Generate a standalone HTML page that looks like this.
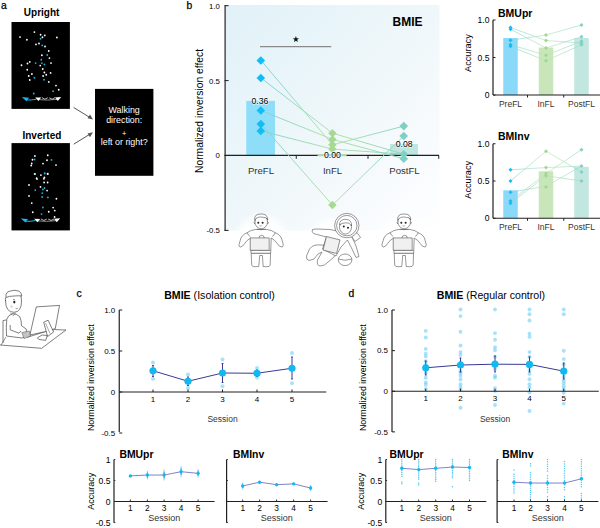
<!DOCTYPE html>
<html><head><meta charset="utf-8"><style>
html,body{margin:0;padding:0;background:#fff;width:600px;height:528px;overflow:hidden}
svg{display:block;font-family:"Liberation Sans", sans-serif}
</style></head><body>
<svg width="600" height="528" viewBox="0 0 600 528">
<text x="0.9" y="8.8" font-size="10.3" text-anchor="start" font-weight="normal" fill="#000" stroke="#000" stroke-width="0.25">a</text>
<text x="41.6" y="15.6" font-size="10" text-anchor="middle" font-weight="bold" fill="#000" >Upright</text>
<rect x="11.5" y="22" width="58.4" height="86.9" fill="#000" />
<text x="41.9" y="138.5" font-size="10" text-anchor="middle" font-weight="bold" fill="#000" >Inverted</text>
<rect x="11.5" y="143.1" width="58.4" height="87.3" fill="#000" />
<circle cx="34.4" cy="32.1" r="0.9" fill="#fff" />
<circle cx="20" cy="37.1" r="0.9" fill="#fff" />
<circle cx="26.9" cy="39.75" r="0.9" fill="#fff" />
<circle cx="40.6" cy="34.75" r="0.9" fill="#fff" />
<circle cx="44.75" cy="35.4" r="0.9" fill="#fff" />
<circle cx="42.5" cy="37.25" r="0.9" fill="#fff" />
<circle cx="40.6" cy="38.75" r="0.9" fill="#19b5e8" />
<circle cx="56.9" cy="37.5" r="0.9" fill="#fff" />
<circle cx="36" cy="44.4" r="0.9" fill="#fff" />
<circle cx="39" cy="43.5" r="0.9" fill="#fff" />
<circle cx="42.25" cy="45.4" r="0.9" fill="#19b5e8" />
<circle cx="45" cy="46.5" r="0.9" fill="#fff" />
<circle cx="48.75" cy="51" r="0.9" fill="#fff" />
<circle cx="41.9" cy="55.25" r="0.9" fill="#fff" />
<circle cx="47.25" cy="55" r="0.9" fill="#19b5e8" />
<circle cx="49.4" cy="58.1" r="0.9" fill="#fff" />
<circle cx="41.25" cy="59.75" r="0.9" fill="#19b5e8" />
<circle cx="29.75" cy="61.9" r="0.9" fill="#fff" />
<circle cx="27.5" cy="63.5" r="0.9" fill="#fff" />
<circle cx="35.6" cy="63.1" r="0.9" fill="#19b5e8" />
<circle cx="41.9" cy="63.1" r="0.9" fill="#19b5e8" />
<circle cx="44.4" cy="64.4" r="0.9" fill="#19b5e8" />
<circle cx="51" cy="63.1" r="0.9" fill="#fff" />
<circle cx="21.5" cy="65.25" r="0.9" fill="#fff" />
<circle cx="40.25" cy="65.6" r="0.9" fill="#fff" />
<circle cx="42.75" cy="69" r="0.9" fill="#fff" />
<circle cx="27.25" cy="69.75" r="0.9" fill="#fff" />
<circle cx="50.6" cy="72.9" r="0.9" fill="#fff" />
<circle cx="44.4" cy="72.5" r="0.9" fill="#fff" />
<circle cx="46.25" cy="74.75" r="0.9" fill="#fff" />
<circle cx="31.9" cy="74" r="0.9" fill="#fff" />
<circle cx="28.75" cy="76" r="0.9" fill="#fff" />
<circle cx="43.1" cy="76" r="0.9" fill="#fff" />
<circle cx="34.4" cy="77.75" r="0.9" fill="#19b5e8" />
<circle cx="29.75" cy="80" r="0.9" fill="#fff" />
<circle cx="44" cy="79.75" r="0.9" fill="#19b5e8" />
<circle cx="48.75" cy="81.9" r="0.9" fill="#fff" />
<circle cx="56" cy="85.6" r="0.9" fill="#fff" />
<circle cx="58.75" cy="89.75" r="0.9" fill="#fff" />
<circle cx="53.1" cy="91.25" r="0.9" fill="#19b5e8" />
<circle cx="33.75" cy="93.5" r="0.9" fill="#19b5e8" />
<g transform="translate(0,0)"><path d="M38 99.6 Q47 100.6 57 99.4" stroke="#8a8a8a" stroke-width="1" fill="none"/><path d="M41.8 97.6 Q44.8 100.6 47.8 97.8 M49.2 97.8 Q52.2 100.6 55.2 97.6" stroke="#e8e8e8" stroke-width="0.8" fill="none"/><path d="M26 99.9 Q31 100.5 36.5 99.2" stroke="#19b5e8" stroke-width="1" fill="none"/><path d="M21.8 97.1 L29 97.7 L26.4 101.2 Z" fill="#19b5e8"/><path d="M35.2 97.4 L41.2 97.6 L38.4 101 Z" fill="#fff"/><path d="M55 97.4 L61.2 96.9 L57.8 100.9 Z" fill="#fff"/></g>
<circle cx="34.9" cy="156" r="0.9" fill="#fff" />
<circle cx="47.75" cy="155.25" r="0.9" fill="#fff" />
<circle cx="32.5" cy="159.75" r="0.9" fill="#fff" />
<circle cx="34.5" cy="159.5" r="0.9" fill="#19b5e8" />
<circle cx="47" cy="160.25" r="0.9" fill="#fff" />
<circle cx="51.5" cy="159.9" r="0.9" fill="#19b5e8" />
<circle cx="31.75" cy="163.4" r="0.9" fill="#fff" />
<circle cx="43" cy="163.6" r="0.9" fill="#fff" />
<circle cx="31.25" cy="165.5" r="0.9" fill="#fff" />
<circle cx="56" cy="165.1" r="0.9" fill="#fff" />
<circle cx="34.5" cy="173.9" r="0.9" fill="#19b5e8" />
<circle cx="40.9" cy="175.1" r="0.9" fill="#fff" />
<circle cx="44.75" cy="173.6" r="0.9" fill="#19b5e8" />
<circle cx="47.6" cy="173.9" r="0.9" fill="#fff" />
<circle cx="36.6" cy="178.2" r="0.9" fill="#fff" />
<circle cx="44.4" cy="177.4" r="0.9" fill="#fff" />
<circle cx="35" cy="174" r="0.9" fill="#fff" />
<circle cx="44.6" cy="173.1" r="0.9" fill="#19b5e8" />
<circle cx="47.75" cy="173.75" r="0.9" fill="#fff" />
<circle cx="37" cy="179.1" r="0.9" fill="#fff" />
<circle cx="43.9" cy="178.75" r="0.9" fill="#fff" />
<circle cx="44.1" cy="182.5" r="0.9" fill="#fff" />
<circle cx="47.6" cy="182.5" r="0.9" fill="#fff" />
<circle cx="29" cy="185" r="0.9" fill="#fff" />
<circle cx="40.5" cy="186.9" r="0.9" fill="#fff" />
<circle cx="42.9" cy="189.5" r="0.9" fill="#19b5e8" />
<circle cx="44.5" cy="188" r="0.9" fill="#19b5e8" />
<circle cx="35.25" cy="190.1" r="0.9" fill="#19b5e8" />
<circle cx="47.1" cy="190.6" r="0.9" fill="#fff" />
<circle cx="42.3" cy="193.1" r="0.9" fill="#19b5e8" />
<circle cx="29" cy="195.9" r="0.9" fill="#fff" />
<circle cx="42.1" cy="197" r="0.9" fill="#19b5e8" />
<circle cx="47.9" cy="197.4" r="0.9" fill="#19b5e8" />
<circle cx="56.4" cy="198.75" r="0.9" fill="#fff" />
<circle cx="31.75" cy="203.1" r="0.9" fill="#fff" />
<circle cx="42.9" cy="207.5" r="0.9" fill="#19b5e8" />
<circle cx="53.1" cy="207.6" r="0.9" fill="#fff" />
<circle cx="48.75" cy="211.75" r="0.9" fill="#fff" />
<circle cx="54.75" cy="210.6" r="0.9" fill="#fff" />
<circle cx="32.75" cy="212.25" r="0.9" fill="#fff" />
<circle cx="41.5" cy="214.1" r="0.9" fill="#19b5e8" />
<circle cx="54.6" cy="217" r="0.9" fill="#fff" />
<g transform="translate(-1,121.3)"><path d="M38 99.6 Q47 100.6 57 99.4" stroke="#8a8a8a" stroke-width="1" fill="none"/><path d="M41.8 97.6 Q44.8 100.6 47.8 97.8 M49.2 97.8 Q52.2 100.6 55.2 97.6" stroke="#e8e8e8" stroke-width="0.8" fill="none"/><path d="M26 99.9 Q31 100.5 36.5 99.2" stroke="#19b5e8" stroke-width="1" fill="none"/><path d="M21.8 97.1 L29 97.7 L26.4 101.2 Z" fill="#19b5e8"/><path d="M35.2 97.4 L41.2 97.6 L38.4 101 Z" fill="#fff"/><path d="M55 97.4 L61.2 96.9 L57.8 100.9 Z" fill="#fff"/></g>
<rect x="95" y="88.9" width="58.4" height="86.9" fill="#000" />
<text x="124.2" y="112.5" font-size="8.9" text-anchor="middle" font-weight="normal" fill="#fff" >Walking</text>
<text x="124.2" y="122.8" font-size="8.9" text-anchor="middle" font-weight="normal" fill="#fff" >direction:</text>
<text x="124.2" y="135.8" font-size="7.5" text-anchor="middle" font-weight="normal" fill="#fff" >+</text>
<text x="124.2" y="144.6" font-size="8.9" text-anchor="middle" font-weight="normal" fill="#fff" >left or right?</text>
<line x1="73.7" y1="107.5" x2="91" y2="118.2" stroke="#555" stroke-width="1" />
<path d="M93 119.5 L87.5 118.3 L90 114.5 Z" fill="#555"/>
<line x1="73.7" y1="144.2" x2="91" y2="133.5" stroke="#555" stroke-width="1" />
<path d="M93 132.3 L87.5 133.5 L90 137.3 Z" fill="#555"/>
<text x="186.5" y="8.8" font-size="10.3" text-anchor="start" font-weight="normal" fill="#000" stroke="#000" stroke-width="0.25">b</text>
<defs>
<linearGradient id="bg" x1="0" y1="0" x2="1" y2="1">
<stop offset="0" stop-color="#e1f1f8"/><stop offset="0.21" stop-color="#e6f4f9"/><stop offset="0.5" stop-color="#eff7fa"/><stop offset="0.71" stop-color="#f6fafc"/><stop offset="0.92" stop-color="#fcfdfe"/><stop offset="1" stop-color="#ffffff"/>
</linearGradient>
<radialGradient id="glow"><stop offset="0" stop-color="#fff" stop-opacity="1"/><stop offset="0.7" stop-color="#fff" stop-opacity="0.9"/><stop offset="1" stop-color="#fff" stop-opacity="0"/></radialGradient>
</defs>
<rect x="226" y="5" width="213.5" height="225.5" fill="url(#bg)" />
<line x1="225.1" y1="5.2" x2="225.1" y2="230.9" stroke="#231f20" stroke-width="1.2" />
<line x1="224.6" y1="5.699999999999989" x2="228.6" y2="5.699999999999989" stroke="#231f20" stroke-width="1" />
<text x="219.9" y="8.599999999999989" font-size="7.8" text-anchor="end" font-weight="normal" fill="#000" >1.0</text>
<line x1="224.6" y1="80.6" x2="228.6" y2="80.6" stroke="#231f20" stroke-width="1" />
<text x="219.9" y="83.5" font-size="7.8" text-anchor="end" font-weight="normal" fill="#000" >0.5</text>
<line x1="224.6" y1="155.5" x2="228.6" y2="155.5" stroke="#231f20" stroke-width="1" />
<text x="219.9" y="158.4" font-size="7.8" text-anchor="end" font-weight="normal" fill="#000" >0</text>
<line x1="224.6" y1="230.4" x2="228.6" y2="230.4" stroke="#231f20" stroke-width="1" />
<text x="219.9" y="233.3" font-size="7.8" text-anchor="end" font-weight="normal" fill="#000" >-0.5</text>
<text x="0" y="0" font-size="10.3" text-anchor="middle" font-weight="normal" fill="#000" transform="translate(202.6,111) rotate(-90)">Normalized inversion effect</text>
<rect x="246.25" y="100.9" width="28.75" height="55.1" fill="#8edefa" />
<rect x="390" y="144" width="28" height="12" fill="#bde6de" />
<line x1="224.6" y1="155.4" x2="439" y2="155.4" stroke="#231f20" stroke-width="1.3" />
<line x1="296.25" y1="155.4" x2="296.25" y2="158.8" stroke="#231f20" stroke-width="1" />
<line x1="368" y1="155.4" x2="368" y2="158.8" stroke="#231f20" stroke-width="1" />
<line x1="438.75" y1="155.4" x2="438.75" y2="158.8" stroke="#231f20" stroke-width="1" />
<rect x="317.6" y="154.3" width="29" height="2" fill="#b3dca3" />
<defs>
<linearGradient id="lg1" gradientUnits="userSpaceOnUse" x1="261" y1="0" x2="332.5" y2="0"><stop offset="0" stop-color="#84d2d6"/><stop offset="1" stop-color="#b2e2a6"/></linearGradient>
<linearGradient id="lg2" gradientUnits="userSpaceOnUse" x1="332.5" y1="0" x2="404" y2="0"><stop offset="0" stop-color="#b2e2a6"/><stop offset="1" stop-color="#8dd7c6"/></linearGradient>
</defs>
<path d="M261 60.5L332.5 144.8" stroke="url(#lg1)" stroke-width="1" fill="none"/>
<path d="M261 78L332.5 133.2" stroke="url(#lg1)" stroke-width="1" fill="none"/>
<path d="M261 110.5L332.5 139.4" stroke="url(#lg1)" stroke-width="1" fill="none"/>
<path d="M261 124.1L332.5 205" stroke="url(#lg1)" stroke-width="1" fill="none"/>
<path d="M261 130.9L332.5 149.1" stroke="url(#lg1)" stroke-width="1" fill="none"/>
<path d="M332.5 144.8L403.75 126.1" stroke="url(#lg2)" stroke-width="1" fill="none"/>
<path d="M332.5 133.2L403.75 154.2" stroke="url(#lg2)" stroke-width="1" fill="none"/>
<path d="M332.5 139.4L403.75 158.75" stroke="url(#lg2)" stroke-width="1" fill="none"/>
<path d="M332.5 205L403.75 136" stroke="url(#lg2)" stroke-width="1" fill="none"/>
<path d="M332.5 149.1L403.75 154.2" stroke="url(#lg2)" stroke-width="1" fill="none"/>
<path d="M256.5 60.5L260.8 56.2L265.1 60.5L260.8 64.8Z" fill="#12bdf6"/>
<path d="M256.5 78L260.8 73.7L265.1 78L260.8 82.3Z" fill="#12bdf6"/>
<path d="M256.5 110.5L260.8 106.2L265.1 110.5L260.8 114.8Z" fill="#12bdf6"/>
<path d="M256.5 124.1L260.8 119.8L265.1 124.1L260.8 128.4Z" fill="#12bdf6"/>
<path d="M256.5 130.9L260.8 126.60000000000001L265.1 130.9L260.8 135.20000000000002Z" fill="#12bdf6"/>
<path d="M328.2 133.2L332.4 129.0L336.59999999999997 133.2L332.4 137.39999999999998Z" fill="#a6d993"/>
<path d="M328.2 139.4L332.4 135.20000000000002L336.59999999999997 139.4L332.4 143.6Z" fill="#a6d993"/>
<path d="M328.2 144.8L332.4 140.60000000000002L336.59999999999997 144.8L332.4 149.0Z" fill="#a6d993"/>
<path d="M328.2 149.1L332.4 144.9L336.59999999999997 149.1L332.4 153.29999999999998Z" fill="#a6d993"/>
<path d="M328.2 205L332.4 200.8L336.59999999999997 205L332.4 209.2Z" fill="#a6d993"/>
<path d="M399.45 126.1L403.75 121.8L408.05 126.1L403.75 130.4Z" fill="#7ed0c2"/>
<path d="M399.45 136L403.75 131.7L408.05 136L403.75 140.3Z" fill="#7ed0c2"/>
<path d="M399.45 154.2L403.75 149.89999999999998L408.05 154.2L403.75 158.5Z" fill="#7ed0c2"/>
<path d="M399.45 158.75L403.75 154.45L408.05 158.75L403.75 163.05Z" fill="#7ed0c2"/>
<text x="260" y="104" font-size="8.7" text-anchor="middle" font-weight="normal" fill="#000" stroke="#fff" stroke-width="1.3" paint-order="stroke" stroke-opacity="0.8">0.36</text>
<text x="332.5" y="157.6" font-size="8.7" text-anchor="middle" font-weight="normal" fill="#000" stroke="#fff" stroke-width="1.3" paint-order="stroke" stroke-opacity="0.8">0.00</text>
<text x="404.2" y="147.4" font-size="8.7" text-anchor="middle" font-weight="normal" fill="#000" stroke="#fff" stroke-width="1.3" paint-order="stroke" stroke-opacity="0.8">0.08</text>
<text x="261" y="174" font-size="9.6" text-anchor="middle" font-weight="normal" fill="#333" >PreFL</text>
<text x="332.5" y="174" font-size="9.6" text-anchor="middle" font-weight="normal" fill="#333" >InFL</text>
<text x="404.5" y="174" font-size="9.6" text-anchor="middle" font-weight="normal" fill="#333" >PostFL</text>
<line x1="260" y1="46.6" x2="331.25" y2="46.6" stroke="#8a8a8a" stroke-width="1.4" />
<polygon points="295.90,36.10 296.69,38.31 299.04,38.38 297.18,39.82 297.84,42.07 295.90,40.75 293.96,42.07 294.62,39.82 292.76,38.38 295.11,38.31" fill="#111"/>
<text x="407.5" y="26" font-size="12" text-anchor="middle" font-weight="bold" fill="#000" >BMIE</text>
<g stroke="#333" stroke-width="0.5" fill="#fff" stroke-linejoin="round" transform="translate(261.2,214.5)"><ellipse cx="0" cy="27" rx="30" ry="30" fill="url(#glow)" stroke="none"/><path d="M-10 38.7 L-9.5 50.5 Q-9 52.5 -6 52.2 L-2.5 52 Q-1.8 46 -1.5 41 L1.2 41 Q1.5 46 2 52 L5.5 52.2 Q8.5 52.5 9 50.5 L9.3 38.7 Z"/><path d="M-6 15 Q-11.5 16 -14 18.2 Q-20 20.5 -21 26 L-22.2 30 Q-22.5 32 -21 32.6 L-18.5 31.5 L-16.5 29 Q-15 26 -10.5 23.5 L-10.2 38.7 L9.5 38.7 L10 23.5 Q14.5 26 16 29 L18 31.5 L20.8 32.6 Q22.3 32 22 30 L21 26 Q20 20.5 14 18.2 Q11.5 16 6 15 Z"/><path d="M-14 18.2 Q-13 21 -11 22" fill="none"/><path d="M14 18.2 Q13 21 11 22" fill="none"/><path d="M-10.2 36 L9.5 36" fill="none" stroke-width="0.4"/><rect x="-11" y="23.4" width="19" height="12.4" fill="#f0f0f0"/><path d="M-2.2 23.4 Q-2 20.8 0.5 20.8 Q3 20.8 3 23.4" fill="none"/><ellipse cx="0" cy="7.3" rx="6.3" ry="6.9"/><path d="M-6.4 6 Q-7.5 -0.8 0 -0.5 Q6.5 -0.8 6.5 5.5 Q5.5 2.5 2 2.8 Q-1 2 -3.5 3 Q-5.5 3.5 -6.4 6 Z" fill="#fff"/><path d="M-6.3 7 Q-7.8 7.5 -6.5 9.5" fill="none"/><path d="M6.3 7 Q7.8 7.5 6.5 9.5" fill="none"/><ellipse cx="-2.9" cy="8.2" rx="1" ry="1" fill="#222" stroke="none"/><ellipse cx="1.4" cy="8.2" rx="1" ry="1" fill="#222" stroke="none"/><path d="M-1.8 11.2 Q-0.6 12 0.8 11.2" fill="none" stroke-width="0.4"/><path d="M-4.5 14.5 Q0 16 4.5 14.5" fill="none" stroke-width="0.4"/></g>
<g stroke="#333" stroke-width="0.5" fill="#fff" stroke-linejoin="round" transform="translate(404.2,214.5)"><ellipse cx="0" cy="27" rx="30" ry="30" fill="url(#glow)" stroke="none"/><path d="M-10 38.7 L-9.5 50.5 Q-9 52.5 -6 52.2 L-2.5 52 Q-1.8 46 -1.5 41 L1.2 41 Q1.5 46 2 52 L5.5 52.2 Q8.5 52.5 9 50.5 L9.3 38.7 Z"/><path d="M-6 15 Q-11.5 16 -14 18.2 Q-20 20.5 -21 26 L-22.2 30 Q-22.5 32 -21 32.6 L-18.5 31.5 L-16.5 29 Q-15 26 -10.5 23.5 L-10.2 38.7 L9.5 38.7 L10 23.5 Q14.5 26 16 29 L18 31.5 L20.8 32.6 Q22.3 32 22 30 L21 26 Q20 20.5 14 18.2 Q11.5 16 6 15 Z"/><path d="M-14 18.2 Q-13 21 -11 22" fill="none"/><path d="M14 18.2 Q13 21 11 22" fill="none"/><path d="M-10.2 36 L9.5 36" fill="none" stroke-width="0.4"/><rect x="-11" y="23.4" width="19" height="12.4" fill="#f0f0f0"/><path d="M-2.2 23.4 Q-2 20.8 0.5 20.8 Q3 20.8 3 23.4" fill="none"/><ellipse cx="0" cy="7.3" rx="6.3" ry="6.9"/><path d="M-6.4 6 Q-7.5 -0.8 0 -0.5 Q6.5 -0.8 6.5 5.5 Q5.5 2.5 2 2.8 Q-1 2 -3.5 3 Q-5.5 3.5 -6.4 6 Z" fill="#fff"/><path d="M-6.3 7 Q-7.8 7.5 -6.5 9.5" fill="none"/><path d="M6.3 7 Q7.8 7.5 6.5 9.5" fill="none"/><ellipse cx="-2.9" cy="8.2" rx="1" ry="1" fill="#222" stroke="none"/><ellipse cx="1.4" cy="8.2" rx="1" ry="1" fill="#222" stroke="none"/><path d="M-1.8 11.2 Q-0.6 12 0.8 11.2" fill="none" stroke-width="0.4"/><path d="M-4.5 14.5 Q0 16 4.5 14.5" fill="none" stroke-width="0.4"/></g>
<g stroke="#333" stroke-width="0.5" fill="#fff" stroke-linejoin="round">
<ellipse cx="335" cy="243" rx="34" ry="28" fill="url(#glow)" stroke="none"/>
<path d="M321 245 Q313 244 309.5 249 L306.5 256 Q306 260 309 260.5 L314 259 L318 254 L322 252 L317.5 260 Q316.5 265.5 320 266 L324.5 265 L334 257 L337 252 L336 246 Z"/>
<path d="M312.5 229.5 Q311.5 232 313.5 233.5 L317 234.5 L326.5 237 L322.5 249 L336 256 L341 247 L347.5 240 L352.5 250 L356 257.5 L359 256.5 L356 246 L352 237 L347 233.5 L337 231 L330 229.5 L316 229 Z"/>
<path d="M351 235.5 L357 232.5 L360.5 237.5 L355 241.5 Z"/>
<rect x="324.5" y="238" width="14" height="14" fill="#f0f0f0" transform="rotate(14 331.5 245)"/>
<circle cx="346.8" cy="225.6" r="12.2"/>
<circle cx="346.8" cy="225.6" r="10.2"/>
<ellipse cx="345.5" cy="227.2" rx="6" ry="6.8"/>
<path d="M339.5 225 Q339.5 219 346 219.3 Q352 219.8 351.6 226 Q349.5 222 345.5 222.8 Q341.5 223 339.5 225 Z" fill="#fff"/>
<ellipse cx="343.8" cy="226.6" rx="1" ry="1" fill="#222" stroke="none"/><ellipse cx="348" cy="227.8" rx="1" ry="1" fill="#222" stroke="none"/>
<ellipse cx="345.1" cy="259.8" rx="6.8" ry="5.8"/>
<path d="M338.5 259 Q345 261.5 351.8 259" fill="none"/>
</g>
<defs>
<linearGradient id="lgs1" gradientUnits="userSpaceOnUse" x1="510.5" y1="0" x2="546" y2="0"><stop offset="0" stop-color="#8dd4dc"/><stop offset="1" stop-color="#bde6b4"/></linearGradient>
<linearGradient id="lgs2" gradientUnits="userSpaceOnUse" x1="546" y1="0" x2="581.5" y2="0"><stop offset="0" stop-color="#bde6b4"/><stop offset="1" stop-color="#9edbcc"/></linearGradient>
</defs>
<text x="498" y="17" font-size="10.5" text-anchor="start" font-weight="bold" fill="#000" >BMUpr</text>
<rect x="503.25" y="38.0" width="14.5" height="57.0" fill="#8ad9f8" />
<rect x="538.75" y="47.525" width="14.5" height="47.475" fill="#c8e6ba" />
<rect x="574.25" y="38.0" width="14.5" height="57.0" fill="#c2e7e0" />
<path d="M510.5 27.50L546 40.48" stroke="url(#lgs1)" stroke-width="0.7" fill="none"/>
<path d="M546 40.48L581.5 43.03" stroke="url(#lgs2)" stroke-width="0.7" fill="none"/>
<path d="M510.5 29.22L546 47.98" stroke="url(#lgs1)" stroke-width="0.7" fill="none"/>
<path d="M546 47.98L581.5 36.73" stroke="url(#lgs2)" stroke-width="0.7" fill="none"/>
<path d="M510.5 40.25L546 35.00" stroke="url(#lgs1)" stroke-width="0.7" fill="none"/>
<path d="M546 35.00L581.5 25.02" stroke="url(#lgs2)" stroke-width="0.7" fill="none"/>
<path d="M510.5 44.75L546 55.25" stroke="url(#lgs1)" stroke-width="0.7" fill="none"/>
<path d="M546 55.25L581.5 41.30" stroke="url(#lgs2)" stroke-width="0.7" fill="none"/>
<path d="M510.5 46.25L546 60.80" stroke="url(#lgs1)" stroke-width="0.7" fill="none"/>
<path d="M546 60.80L581.5 44.75" stroke="url(#lgs2)" stroke-width="0.7" fill="none"/>
<path d="M508.5 27.5L510.5 25.5L512.5 27.5L510.5 29.5Z" fill="#14bcf4"/>
<path d="M508.5 29.224999999999994L510.5 27.224999999999994L512.5 29.224999999999994L510.5 31.224999999999994Z" fill="#14bcf4"/>
<path d="M508.5 40.25L510.5 38.25L512.5 40.25L510.5 42.25Z" fill="#14bcf4"/>
<path d="M508.5 44.75L510.5 42.75L512.5 44.75L510.5 46.75Z" fill="#14bcf4"/>
<path d="M508.5 46.25L510.5 44.25L512.5 46.25L510.5 48.25Z" fill="#14bcf4"/>
<path d="M544.0 35.0L546 33.0L548.0 35.0L546 37.0Z" fill="#a2d791"/>
<path d="M544.0 40.475L546 38.475L548.0 40.475L546 42.475Z" fill="#a2d791"/>
<path d="M544.0 47.975L546 45.975L548.0 47.975L546 49.975Z" fill="#a2d791"/>
<path d="M544.0 55.25L546 53.25L548.0 55.25L546 57.25Z" fill="#a2d791"/>
<path d="M544.0 60.8L546 58.8L548.0 60.8L546 62.8Z" fill="#a2d791"/>
<path d="M579.5 25.02499999999999L581.5 23.02499999999999L583.5 25.02499999999999L581.5 27.02499999999999Z" fill="#80d0c3"/>
<path d="M579.5 36.725L581.5 34.725L583.5 36.725L581.5 38.725Z" fill="#80d0c3"/>
<path d="M579.5 41.300000000000004L581.5 39.300000000000004L583.5 41.300000000000004L581.5 43.300000000000004Z" fill="#80d0c3"/>
<path d="M579.5 43.025000000000006L581.5 41.025000000000006L583.5 43.025000000000006L581.5 45.025000000000006Z" fill="#80d0c3"/>
<path d="M579.5 44.75L581.5 42.75L583.5 44.75L581.5 46.75Z" fill="#80d0c3"/>
<line x1="493" y1="20" x2="493" y2="95" stroke="#231f20" stroke-width="1.2" />
<line x1="493" y1="95" x2="600" y2="95" stroke="#231f20" stroke-width="1.2" />
<line x1="493" y1="20" x2="495.5" y2="20" stroke="#231f20" stroke-width="1" />
<text x="489.5" y="23" font-size="8.6" text-anchor="end" font-weight="normal" fill="#000" >1.0</text>
<line x1="493" y1="57.5" x2="495.5" y2="57.5" stroke="#231f20" stroke-width="1" />
<text x="489.5" y="60.5" font-size="8.6" text-anchor="end" font-weight="normal" fill="#000" >0.5</text>
<line x1="493" y1="95" x2="495.5" y2="95" stroke="#231f20" stroke-width="1" />
<text x="489.5" y="98" font-size="8.6" text-anchor="end" font-weight="normal" fill="#000" >0</text>
<line x1="527.5" y1="95" x2="527.5" y2="97.5" stroke="#231f20" stroke-width="1" />
<line x1="563.75" y1="95" x2="563.75" y2="97.5" stroke="#231f20" stroke-width="1" />
<text x="510.5" y="107" font-size="8.5" text-anchor="middle" font-weight="normal" fill="#333" >PreFL</text>
<text x="546" y="107" font-size="8.5" text-anchor="middle" font-weight="normal" fill="#333" >InFL</text>
<text x="581.5" y="107" font-size="8.5" text-anchor="middle" font-weight="normal" fill="#333" >PostFL</text>
<text x="0" y="0" font-size="9.2" text-anchor="middle" font-weight="normal" fill="#000" transform="translate(471,53.1) rotate(-90)">Accuracy</text>
<text x="498" y="140" font-size="10.5" text-anchor="start" font-weight="bold" fill="#000" >BMInv</text>
<rect x="503.25" y="190.3125" width="14.5" height="27.9375" fill="#8ad9f8" />
<rect x="538.75" y="171.315" width="14.5" height="46.935" fill="#c8e6ba" />
<rect x="574.25" y="166.845" width="14.5" height="51.405" fill="#c2e7e0" />
<path d="M510.5 169.82L546 167.59" stroke="url(#lgs1)" stroke-width="0.7" fill="none"/>
<path d="M546 167.59L581.5 166.10" stroke="url(#lgs2)" stroke-width="0.7" fill="none"/>
<path d="M510.5 181.00L546 151.20" stroke="url(#lgs1)" stroke-width="0.7" fill="none"/>
<path d="M546 151.20L581.5 172.06" stroke="url(#lgs2)" stroke-width="0.7" fill="none"/>
<path d="M510.5 192.18L546 186.22" stroke="url(#lgs1)" stroke-width="0.7" fill="none"/>
<path d="M546 186.22L581.5 166.10" stroke="url(#lgs2)" stroke-width="0.7" fill="none"/>
<path d="M510.5 201.12L546 173.55" stroke="url(#lgs1)" stroke-width="0.7" fill="none"/>
<path d="M546 173.55L581.5 149.71" stroke="url(#lgs2)" stroke-width="0.7" fill="none"/>
<path d="M510.5 203.35L546 175.78" stroke="url(#lgs1)" stroke-width="0.7" fill="none"/>
<path d="M546 175.78L581.5 181.00" stroke="url(#lgs2)" stroke-width="0.7" fill="none"/>
<path d="M508.5 169.825L510.5 167.825L512.5 169.825L510.5 171.825Z" fill="#14bcf4"/>
<path d="M508.5 181.0L510.5 179.0L512.5 181.0L510.5 183.0Z" fill="#14bcf4"/>
<path d="M508.5 192.175L510.5 190.175L512.5 192.175L510.5 194.175Z" fill="#14bcf4"/>
<path d="M508.5 201.115L510.5 199.115L512.5 201.115L510.5 203.115Z" fill="#14bcf4"/>
<path d="M508.5 203.35L510.5 201.35L512.5 203.35L510.5 205.35Z" fill="#14bcf4"/>
<path d="M544.0 151.2L546 149.2L548.0 151.2L546 153.2Z" fill="#a2d791"/>
<path d="M544.0 167.59L546 165.59L548.0 167.59L546 169.59Z" fill="#a2d791"/>
<path d="M544.0 173.55L546 171.55L548.0 173.55L546 175.55Z" fill="#a2d791"/>
<path d="M544.0 175.785L546 173.785L548.0 175.785L546 177.785Z" fill="#a2d791"/>
<path d="M544.0 186.96L546 184.96L548.0 186.96L546 188.96Z" fill="#a2d791"/>
<path d="M579.5 149.70999999999998L581.5 147.70999999999998L583.5 149.70999999999998L581.5 151.70999999999998Z" fill="#80d0c3"/>
<path d="M579.5 166.1L581.5 164.1L583.5 166.1L581.5 168.1Z" fill="#80d0c3"/>
<path d="M579.5 172.06L581.5 170.06L583.5 172.06L581.5 174.06Z" fill="#80d0c3"/>
<path d="M579.5 181.0L581.5 179.0L583.5 181.0L581.5 183.0Z" fill="#80d0c3"/>
<line x1="493" y1="143.75" x2="493" y2="218.25" stroke="#231f20" stroke-width="1.2" />
<line x1="493" y1="218.25" x2="600" y2="218.25" stroke="#231f20" stroke-width="1.2" />
<line x1="493" y1="143.75" x2="495.5" y2="143.75" stroke="#231f20" stroke-width="1" />
<text x="489.5" y="146.75" font-size="8.6" text-anchor="end" font-weight="normal" fill="#000" >1.0</text>
<line x1="493" y1="181.0" x2="495.5" y2="181.0" stroke="#231f20" stroke-width="1" />
<text x="489.5" y="184.0" font-size="8.6" text-anchor="end" font-weight="normal" fill="#000" >0.5</text>
<line x1="493" y1="218.25" x2="495.5" y2="218.25" stroke="#231f20" stroke-width="1" />
<text x="489.5" y="221.25" font-size="8.6" text-anchor="end" font-weight="normal" fill="#000" >0</text>
<line x1="527.5" y1="218.25" x2="527.5" y2="220.75" stroke="#231f20" stroke-width="1" />
<line x1="563.75" y1="218.25" x2="563.75" y2="220.75" stroke="#231f20" stroke-width="1" />
<text x="510.5" y="230.25" font-size="8.5" text-anchor="middle" font-weight="normal" fill="#333" >PreFL</text>
<text x="546" y="230.25" font-size="8.5" text-anchor="middle" font-weight="normal" fill="#333" >InFL</text>
<text x="581.5" y="230.25" font-size="8.5" text-anchor="middle" font-weight="normal" fill="#333" >PostFL</text>
<text x="0" y="0" font-size="9.2" text-anchor="middle" font-weight="normal" fill="#000" transform="translate(471,179.8) rotate(-90)">Accuracy</text>
<g stroke="#2a2a2a" stroke-width="0.6" fill="none" stroke-linejoin="round">
<ellipse cx="34" cy="320" rx="40" ry="35" fill="url(#glow)" stroke="none"/>
<path d="M0 345 L41.7 348.3 L65.9 330 L54.5 329.6 L45.7 331.5 L27 337.4" fill="#fff"/>
<path d="M36.3 306.9 L59.5 305.4 L55.3 328.6 L45.7 331.5 L29.9 335 Z" fill="#fff"/>
<path d="M43.7 322.2 L48.1 320.2 L53.6 332 L47.6 336.5 Z" fill="#fff"/>
<path d="M45.5 323 L50 333.5" stroke-width="0.4"/>
<path d="M37.3 337.9 L42.2 335 L47.2 335.5 L45.7 340.4 L38.8 339.4 Z" fill="#fff"/>
<path d="M3 343 L3 320.6 L6.5 319.9" />
<path d="M1 345 L6 337" stroke-width="0.5"/>
<path d="M13 313.5 Q8 315 6.8 319 Q6 327 6.5 336 L22 338 L27 336 L26.5 332 L26.2 329 L21.5 325.7 Q21.5 320 19.8 316.8 Q17 314 13 313.5 Z" fill="#fff"/>
<path d="M10.2 325 L10.2 329.8 L19 333.2 L21 331" />
<path d="M21.8 332.5 L29.3 331 L30.5 336 L24 338.6 Z" fill="#c4c4c4" stroke-width="0.4"/>
<path d="M5.5 300 Q5.5 312.5 14 312.3 Q21.5 312 21.5 301 Q21.5 296 20 294" fill="#fff"/>
<path d="M6 297.5 Q5 291 12 290.8 Q14 289.8 16 290.6 Q21 290.5 21.8 296 Q19 295.5 14 296 Q9 296 6 297.5 Z" fill="#fff"/>
<path d="M5.5 297.5 Q5.3 299 5.5 301" />
<ellipse cx="14.3" cy="302.1" rx="1.1" ry="1.4" fill="#222" stroke="none"/>
<path d="M13 299.3 L15 299.8" stroke-width="0.5"/>
<ellipse cx="11.5" cy="306.5" rx="1.5" ry="1.2" fill="#ddd" stroke="none"/>
<path d="M15.5 308.2 Q16.5 309 17.8 308.3" stroke-width="0.5"/>
<path d="M10.5 313 L13 315.5 L15.8 313" stroke-width="0.5"/>
</g>
<text x="76.6" y="296.8" font-size="10.3" text-anchor="start" font-weight="normal" fill="#000" stroke="#000" stroke-width="0.25">c</text>
<text x="164.2" y="299.4" font-size="10.6" text-anchor="start" font-weight="normal" fill="#000" ><tspan font-weight="bold">BMIE</tspan> (Isolation control)</text>
<text x="436.8" y="299.4" font-size="10.6" text-anchor="start" font-weight="normal" fill="#000" ><tspan font-weight="bold">BMIE</tspan> (Regular control)</text>
<text x="348.4" y="296.7" font-size="10.3" text-anchor="start" font-weight="normal" fill="#000" stroke="#000" stroke-width="0.25">d</text>
<circle cx="153" cy="362.5" r="1.95" fill="#4fc5f4" fill-opacity="0.5"/>
<circle cx="153" cy="378.75" r="1.95" fill="#4fc5f4" fill-opacity="0.5"/>
<circle cx="188" cy="374.5" r="1.95" fill="#4fc5f4" fill-opacity="0.5"/>
<circle cx="188" cy="388" r="1.95" fill="#4fc5f4" fill-opacity="0.5"/>
<circle cx="222.5" cy="359.5" r="1.95" fill="#4fc5f4" fill-opacity="0.5"/>
<circle cx="222.5" cy="386.25" r="1.95" fill="#4fc5f4" fill-opacity="0.5"/>
<circle cx="257" cy="368" r="1.95" fill="#4fc5f4" fill-opacity="0.5"/>
<circle cx="257" cy="377.5" r="1.95" fill="#4fc5f4" fill-opacity="0.5"/>
<circle cx="292" cy="353" r="1.95" fill="#4fc5f4" fill-opacity="0.5"/>
<circle cx="292" cy="383.25" r="1.95" fill="#4fc5f4" fill-opacity="0.5"/>
<polyline points="153,370.75 188,381.25 222.5,373 257,373.25 292,368.25" fill="none" stroke="#3a3a96" stroke-width="1"/>
<line x1="153" y1="365.5" x2="153" y2="376.5" stroke="#3a3a96" stroke-width="1" />
<line x1="152.1" y1="365.5" x2="153.9" y2="365.5" stroke="#3a3a96" stroke-width="1" />
<line x1="152.1" y1="376.5" x2="153.9" y2="376.5" stroke="#3a3a96" stroke-width="1" />
<circle cx="153" cy="370.75" r="3.6" fill="#12b9f0" />
<line x1="188" y1="377" x2="188" y2="385.5" stroke="#3a3a96" stroke-width="1" />
<line x1="187.1" y1="377" x2="188.9" y2="377" stroke="#3a3a96" stroke-width="1" />
<line x1="187.1" y1="385.5" x2="188.9" y2="385.5" stroke="#3a3a96" stroke-width="1" />
<circle cx="188" cy="381.25" r="3.6" fill="#12b9f0" />
<line x1="222.5" y1="363.5" x2="222.5" y2="382.5" stroke="#3a3a96" stroke-width="1" />
<line x1="221.6" y1="363.5" x2="223.4" y2="363.5" stroke="#3a3a96" stroke-width="1" />
<line x1="221.6" y1="382.5" x2="223.4" y2="382.5" stroke="#3a3a96" stroke-width="1" />
<circle cx="222.5" cy="373" r="3.6" fill="#12b9f0" />
<line x1="257" y1="370" x2="257" y2="376.5" stroke="#3a3a96" stroke-width="1" />
<line x1="256.1" y1="370" x2="257.9" y2="370" stroke="#3a3a96" stroke-width="1" />
<line x1="256.1" y1="376.5" x2="257.9" y2="376.5" stroke="#3a3a96" stroke-width="1" />
<circle cx="257" cy="373.25" r="3.6" fill="#12b9f0" />
<line x1="292" y1="357" x2="292" y2="379" stroke="#3a3a96" stroke-width="1" />
<line x1="291.1" y1="357" x2="292.9" y2="357" stroke="#3a3a96" stroke-width="1" />
<line x1="291.1" y1="379" x2="292.9" y2="379" stroke="#3a3a96" stroke-width="1" />
<circle cx="292" cy="368.25" r="3.6" fill="#12b9f0" />
<line x1="119.25" y1="310" x2="119.25" y2="432" stroke="#231f20" stroke-width="1.2" />
<line x1="119.25" y1="392" x2="326.25" y2="392" stroke="#231f20" stroke-width="1.2" />
<line x1="119.25" y1="310.0" x2="122.25" y2="310.0" stroke="#231f20" stroke-width="1" />
<text x="115.25" y="312.8" font-size="8" text-anchor="end" font-weight="normal" fill="#000" >1.0</text>
<line x1="119.25" y1="351.0" x2="122.25" y2="351.0" stroke="#231f20" stroke-width="1" />
<text x="115.25" y="353.8" font-size="8" text-anchor="end" font-weight="normal" fill="#000" >0.5</text>
<line x1="119.25" y1="392" x2="122.25" y2="392" stroke="#231f20" stroke-width="1" />
<text x="115.25" y="394.8" font-size="8" text-anchor="end" font-weight="normal" fill="#000" >0</text>
<line x1="119.25" y1="433.0" x2="122.25" y2="433.0" stroke="#231f20" stroke-width="1" />
<text x="115.25" y="435.8" font-size="8" text-anchor="end" font-weight="normal" fill="#000" >-0.5</text>
<line x1="153" y1="392" x2="153" y2="389.5" stroke="#231f20" stroke-width="1" />
<text x="153" y="402" font-size="8" text-anchor="middle" font-weight="normal" fill="#000" >1</text>
<line x1="188" y1="392" x2="188" y2="389.5" stroke="#231f20" stroke-width="1" />
<text x="188" y="402" font-size="8" text-anchor="middle" font-weight="normal" fill="#000" >2</text>
<line x1="222.5" y1="392" x2="222.5" y2="389.5" stroke="#231f20" stroke-width="1" />
<text x="222.5" y="402" font-size="8" text-anchor="middle" font-weight="normal" fill="#000" >3</text>
<line x1="257" y1="392" x2="257" y2="389.5" stroke="#231f20" stroke-width="1" />
<text x="257" y="402" font-size="8" text-anchor="middle" font-weight="normal" fill="#000" >4</text>
<line x1="292" y1="392" x2="292" y2="389.5" stroke="#231f20" stroke-width="1" />
<text x="292" y="402" font-size="8" text-anchor="middle" font-weight="normal" fill="#000" >5</text>
<text x="222.5" y="421.6" font-size="8.5" text-anchor="middle" font-weight="normal" fill="#333" >Session</text>
<text x="0" y="0" font-size="8.9" text-anchor="middle" font-weight="normal" fill="#000" transform="translate(94.2,377.6) rotate(-90)">Normalized inversion effect</text>
<circle cx="425.75" cy="330.9" r="1.95" fill="#4fc5f4" fill-opacity="0.5"/>
<circle cx="425.75" cy="337.5" r="1.95" fill="#4fc5f4" fill-opacity="0.5"/>
<circle cx="425.75" cy="348.9" r="1.95" fill="#4fc5f4" fill-opacity="0.5"/>
<circle cx="425.75" cy="353.6" r="1.95" fill="#4fc5f4" fill-opacity="0.5"/>
<circle cx="425.75" cy="356.4" r="1.95" fill="#4fc5f4" fill-opacity="0.5"/>
<circle cx="425.75" cy="361.2" r="1.95" fill="#4fc5f4" fill-opacity="0.5"/>
<circle cx="425.75" cy="365.3" r="1.95" fill="#4fc5f4" fill-opacity="0.5"/>
<circle cx="425.75" cy="372.9" r="1.95" fill="#4fc5f4" fill-opacity="0.5"/>
<circle cx="425.75" cy="377.7" r="1.95" fill="#4fc5f4" fill-opacity="0.5"/>
<circle cx="425.75" cy="382.4" r="1.95" fill="#4fc5f4" fill-opacity="0.5"/>
<circle cx="425.75" cy="384.8" r="1.95" fill="#4fc5f4" fill-opacity="0.5"/>
<circle cx="425.75" cy="389" r="1.95" fill="#4fc5f4" fill-opacity="0.5"/>
<circle cx="460.5" cy="309.5" r="1.95" fill="#4fc5f4" fill-opacity="0.5"/>
<circle cx="460.5" cy="316.1" r="1.95" fill="#4fc5f4" fill-opacity="0.5"/>
<circle cx="460.5" cy="331.8" r="1.95" fill="#4fc5f4" fill-opacity="0.5"/>
<circle cx="460.5" cy="345.5" r="1.95" fill="#4fc5f4" fill-opacity="0.5"/>
<circle cx="460.5" cy="352.1" r="1.95" fill="#4fc5f4" fill-opacity="0.5"/>
<circle cx="460.5" cy="354.9" r="1.95" fill="#4fc5f4" fill-opacity="0.5"/>
<circle cx="460.5" cy="362.5" r="1.95" fill="#4fc5f4" fill-opacity="0.5"/>
<circle cx="460.5" cy="371" r="1.95" fill="#4fc5f4" fill-opacity="0.5"/>
<circle cx="460.5" cy="372.9" r="1.95" fill="#4fc5f4" fill-opacity="0.5"/>
<circle cx="460.5" cy="375.8" r="1.95" fill="#4fc5f4" fill-opacity="0.5"/>
<circle cx="460.5" cy="379.5" r="1.95" fill="#4fc5f4" fill-opacity="0.5"/>
<circle cx="460.5" cy="384.3" r="1.95" fill="#4fc5f4" fill-opacity="0.5"/>
<circle cx="460.5" cy="387.1" r="1.95" fill="#4fc5f4" fill-opacity="0.5"/>
<circle cx="460.5" cy="389.4" r="1.95" fill="#4fc5f4" fill-opacity="0.5"/>
<circle cx="460.5" cy="407.8" r="1.95" fill="#4fc5f4" fill-opacity="0.5"/>
<circle cx="495" cy="309.5" r="1.95" fill="#4fc5f4" fill-opacity="0.5"/>
<circle cx="495" cy="333.1" r="1.95" fill="#4fc5f4" fill-opacity="0.5"/>
<circle cx="495" cy="339.8" r="1.95" fill="#4fc5f4" fill-opacity="0.5"/>
<circle cx="495" cy="347.3" r="1.95" fill="#4fc5f4" fill-opacity="0.5"/>
<circle cx="495" cy="350.2" r="1.95" fill="#4fc5f4" fill-opacity="0.5"/>
<circle cx="495" cy="356.8" r="1.95" fill="#4fc5f4" fill-opacity="0.5"/>
<circle cx="495" cy="369.1" r="1.95" fill="#4fc5f4" fill-opacity="0.5"/>
<circle cx="495" cy="375.8" r="1.95" fill="#4fc5f4" fill-opacity="0.5"/>
<circle cx="495" cy="377.7" r="1.95" fill="#4fc5f4" fill-opacity="0.5"/>
<circle cx="495" cy="388.1" r="1.95" fill="#4fc5f4" fill-opacity="0.5"/>
<circle cx="495" cy="390.9" r="1.95" fill="#4fc5f4" fill-opacity="0.5"/>
<circle cx="495" cy="405" r="1.95" fill="#4fc5f4" fill-opacity="0.5"/>
<circle cx="529.5" cy="309.5" r="1.95" fill="#4fc5f4" fill-opacity="0.5"/>
<circle cx="529.5" cy="314.2" r="1.95" fill="#4fc5f4" fill-opacity="0.5"/>
<circle cx="529.5" cy="320.5" r="1.95" fill="#4fc5f4" fill-opacity="0.5"/>
<circle cx="529.5" cy="333.7" r="1.95" fill="#4fc5f4" fill-opacity="0.5"/>
<circle cx="529.5" cy="336.9" r="1.95" fill="#4fc5f4" fill-opacity="0.5"/>
<circle cx="529.5" cy="352.1" r="1.95" fill="#4fc5f4" fill-opacity="0.5"/>
<circle cx="529.5" cy="356.8" r="1.95" fill="#4fc5f4" fill-opacity="0.5"/>
<circle cx="529.5" cy="370" r="1.95" fill="#4fc5f4" fill-opacity="0.5"/>
<circle cx="529.5" cy="373.9" r="1.95" fill="#4fc5f4" fill-opacity="0.5"/>
<circle cx="529.5" cy="379.2" r="1.95" fill="#4fc5f4" fill-opacity="0.5"/>
<circle cx="529.5" cy="384.3" r="1.95" fill="#4fc5f4" fill-opacity="0.5"/>
<circle cx="529.5" cy="387.5" r="1.95" fill="#4fc5f4" fill-opacity="0.5"/>
<circle cx="529.5" cy="392.4" r="1.95" fill="#4fc5f4" fill-opacity="0.5"/>
<circle cx="529.5" cy="411" r="1.95" fill="#4fc5f4" fill-opacity="0.5"/>
<circle cx="563.75" cy="309.5" r="1.95" fill="#4fc5f4" fill-opacity="0.5"/>
<circle cx="563.75" cy="314.2" r="1.95" fill="#4fc5f4" fill-opacity="0.5"/>
<circle cx="563.75" cy="350.8" r="1.95" fill="#4fc5f4" fill-opacity="0.5"/>
<circle cx="563.75" cy="359.1" r="1.95" fill="#4fc5f4" fill-opacity="0.5"/>
<circle cx="563.75" cy="364.4" r="1.95" fill="#4fc5f4" fill-opacity="0.5"/>
<circle cx="563.75" cy="376.7" r="1.95" fill="#4fc5f4" fill-opacity="0.5"/>
<circle cx="563.75" cy="380.5" r="1.95" fill="#4fc5f4" fill-opacity="0.5"/>
<circle cx="563.75" cy="383.3" r="1.95" fill="#4fc5f4" fill-opacity="0.5"/>
<circle cx="563.75" cy="386.2" r="1.95" fill="#4fc5f4" fill-opacity="0.5"/>
<circle cx="563.75" cy="389" r="1.95" fill="#4fc5f4" fill-opacity="0.5"/>
<circle cx="563.75" cy="392.8" r="1.95" fill="#4fc5f4" fill-opacity="0.5"/>
<circle cx="563.75" cy="403.6" r="1.95" fill="#4fc5f4" fill-opacity="0.5"/>
<polyline points="425.75,367.8 460.5,365 495,364.2 529.5,364.4 563.75,371.2" fill="none" stroke="#3a3a96" stroke-width="1"/>
<line x1="425.75" y1="361" x2="425.75" y2="375" stroke="#3a3a96" stroke-width="1" />
<line x1="424.85" y1="361" x2="426.65" y2="361" stroke="#3a3a96" stroke-width="1" />
<line x1="424.85" y1="375" x2="426.65" y2="375" stroke="#3a3a96" stroke-width="1" />
<circle cx="425.75" cy="367.8" r="3.6" fill="#12b9f0" />
<line x1="460.5" y1="358" x2="460.5" y2="372" stroke="#3a3a96" stroke-width="1" />
<line x1="459.6" y1="358" x2="461.4" y2="358" stroke="#3a3a96" stroke-width="1" />
<line x1="459.6" y1="372" x2="461.4" y2="372" stroke="#3a3a96" stroke-width="1" />
<circle cx="460.5" cy="365" r="3.6" fill="#12b9f0" />
<line x1="495" y1="356" x2="495" y2="372" stroke="#3a3a96" stroke-width="1" />
<line x1="494.1" y1="356" x2="495.9" y2="356" stroke="#3a3a96" stroke-width="1" />
<line x1="494.1" y1="372" x2="495.9" y2="372" stroke="#3a3a96" stroke-width="1" />
<circle cx="495" cy="364.2" r="3.6" fill="#12b9f0" />
<line x1="529.5" y1="357" x2="529.5" y2="372" stroke="#3a3a96" stroke-width="1" />
<line x1="528.6" y1="357" x2="530.4" y2="357" stroke="#3a3a96" stroke-width="1" />
<line x1="528.6" y1="372" x2="530.4" y2="372" stroke="#3a3a96" stroke-width="1" />
<circle cx="529.5" cy="364.4" r="3.6" fill="#12b9f0" />
<line x1="563.75" y1="363" x2="563.75" y2="379" stroke="#3a3a96" stroke-width="1" />
<line x1="562.85" y1="363" x2="564.65" y2="363" stroke="#3a3a96" stroke-width="1" />
<line x1="562.85" y1="379" x2="564.65" y2="379" stroke="#3a3a96" stroke-width="1" />
<circle cx="563.75" cy="371.2" r="3.6" fill="#12b9f0" />
<line x1="392" y1="310" x2="392" y2="432" stroke="#231f20" stroke-width="1.2" />
<line x1="392" y1="391.25" x2="598.75" y2="391.25" stroke="#231f20" stroke-width="1.2" />
<line x1="392" y1="310.0" x2="395" y2="310.0" stroke="#231f20" stroke-width="1" />
<text x="388" y="312.8" font-size="8" text-anchor="end" font-weight="normal" fill="#000" >1.0</text>
<line x1="392" y1="350.625" x2="395" y2="350.625" stroke="#231f20" stroke-width="1" />
<text x="388" y="353.425" font-size="8" text-anchor="end" font-weight="normal" fill="#000" >0.5</text>
<line x1="392" y1="391.25" x2="395" y2="391.25" stroke="#231f20" stroke-width="1" />
<text x="388" y="394.05" font-size="8" text-anchor="end" font-weight="normal" fill="#000" >0</text>
<line x1="392" y1="431.875" x2="395" y2="431.875" stroke="#231f20" stroke-width="1" />
<text x="388" y="434.675" font-size="8" text-anchor="end" font-weight="normal" fill="#000" >-0.5</text>
<line x1="425.75" y1="391.25" x2="425.75" y2="388.75" stroke="#231f20" stroke-width="1" />
<text x="425.75" y="401.25" font-size="8" text-anchor="middle" font-weight="normal" fill="#000" >1</text>
<line x1="460.5" y1="391.25" x2="460.5" y2="388.75" stroke="#231f20" stroke-width="1" />
<text x="460.5" y="401.25" font-size="8" text-anchor="middle" font-weight="normal" fill="#000" >2</text>
<line x1="495" y1="391.25" x2="495" y2="388.75" stroke="#231f20" stroke-width="1" />
<text x="495" y="401.25" font-size="8" text-anchor="middle" font-weight="normal" fill="#000" >3</text>
<line x1="529.5" y1="391.25" x2="529.5" y2="388.75" stroke="#231f20" stroke-width="1" />
<text x="529.5" y="401.25" font-size="8" text-anchor="middle" font-weight="normal" fill="#000" >4</text>
<line x1="563.75" y1="391.25" x2="563.75" y2="388.75" stroke="#231f20" stroke-width="1" />
<text x="563.75" y="401.25" font-size="8" text-anchor="middle" font-weight="normal" fill="#000" >5</text>
<text x="495" y="421.6" font-size="8.5" text-anchor="middle" font-weight="normal" fill="#333" >Session</text>
<text x="0" y="0" font-size="8.9" text-anchor="middle" font-weight="normal" fill="#000" transform="translate(365.6,377.6) rotate(-90)">Normalized inversion effect</text>
<text x="119.4" y="457.6" font-size="10.4" text-anchor="start" font-weight="bold" fill="#000" >BMUpr</text>
<polyline points="130.4,475.88 147.4,475.04 164.1,475.04 181.1,471.68 198.1,473.36" fill="none" stroke="#7475c0" stroke-width="0.9"/>
<line x1="130.4" y1="474.62" x2="130.4" y2="477.14" stroke="#6ccdf2" stroke-width="0.9" />
<line x1="130.4" y1="475.124" x2="130.4" y2="476.636" stroke="#5a5ab0" stroke-width="0.7" />
<circle cx="130.4" cy="475.88" r="1.7" fill="#12b9f0" />
<line x1="147.4" y1="470.84" x2="147.4" y2="479.24" stroke="#6ccdf2" stroke-width="0.9" />
<line x1="147.4" y1="472.52" x2="147.4" y2="477.56" stroke="#5a5ab0" stroke-width="0.7" />
<circle cx="147.4" cy="475.04" r="1.7" fill="#12b9f0" />
<line x1="164.1" y1="469.58" x2="164.1" y2="480.5" stroke="#6ccdf2" stroke-width="0.9" />
<line x1="164.1" y1="471.764" x2="164.1" y2="478.316" stroke="#5a5ab0" stroke-width="0.7" />
<circle cx="164.1" cy="475.04" r="1.7" fill="#12b9f0" />
<line x1="181.1" y1="466.22" x2="181.1" y2="477.14" stroke="#6ccdf2" stroke-width="0.9" />
<line x1="181.1" y1="468.404" x2="181.1" y2="474.956" stroke="#5a5ab0" stroke-width="0.7" />
<circle cx="181.1" cy="471.68" r="1.7" fill="#12b9f0" />
<line x1="198.1" y1="469.15999999999997" x2="198.1" y2="477.56" stroke="#6ccdf2" stroke-width="0.9" />
<line x1="198.1" y1="470.84" x2="198.1" y2="475.88" stroke="#5a5ab0" stroke-width="0.7" />
<circle cx="198.1" cy="473.36" r="1.7" fill="#12b9f0" />
<line x1="114" y1="459.5" x2="114" y2="522.8" stroke="#231f20" stroke-width="1.2" />
<line x1="114" y1="501.5" x2="214.6" y2="501.5" stroke="#231f20" stroke-width="1.2" />
<line x1="114" y1="459.5" x2="115.3" y2="459.5" stroke="#231f20" stroke-width="0.9" />
<text x="110.5" y="462.5" font-size="8.6" text-anchor="end" font-weight="normal" fill="#000" >1</text>
<line x1="114" y1="480.5" x2="115.3" y2="480.5" stroke="#231f20" stroke-width="0.9" />
<text x="110.5" y="483.5" font-size="8.6" text-anchor="end" font-weight="normal" fill="#000" >0.5</text>
<line x1="114" y1="501.5" x2="115.3" y2="501.5" stroke="#231f20" stroke-width="0.9" />
<text x="110.5" y="504.5" font-size="8.6" text-anchor="end" font-weight="normal" fill="#000" >0</text>
<line x1="114" y1="522.5" x2="115.3" y2="522.5" stroke="#231f20" stroke-width="0.9" />
<text x="110.5" y="525.5" font-size="8.6" text-anchor="end" font-weight="normal" fill="#000" >-0.5</text>
<line x1="130.4" y1="501.5" x2="130.4" y2="499.5" stroke="#231f20" stroke-width="0.9" />
<text x="130.4" y="510.5" font-size="8.3" text-anchor="middle" font-weight="normal" fill="#000" >1</text>
<line x1="147.4" y1="501.5" x2="147.4" y2="499.5" stroke="#231f20" stroke-width="0.9" />
<text x="147.4" y="510.5" font-size="8.3" text-anchor="middle" font-weight="normal" fill="#000" >2</text>
<line x1="164.1" y1="501.5" x2="164.1" y2="499.5" stroke="#231f20" stroke-width="0.9" />
<text x="164.1" y="510.5" font-size="8.3" text-anchor="middle" font-weight="normal" fill="#000" >3</text>
<line x1="181.1" y1="501.5" x2="181.1" y2="499.5" stroke="#231f20" stroke-width="0.9" />
<text x="181.1" y="510.5" font-size="8.3" text-anchor="middle" font-weight="normal" fill="#000" >4</text>
<line x1="198.1" y1="501.5" x2="198.1" y2="499.5" stroke="#231f20" stroke-width="0.9" />
<text x="198.1" y="510.5" font-size="8.3" text-anchor="middle" font-weight="normal" fill="#000" >5</text>
<text x="164.25" y="521.3" font-size="9" text-anchor="middle" font-weight="normal" fill="#333" >Session</text>
<text x="0" y="0" font-size="9" text-anchor="middle" font-weight="normal" fill="#000" transform="translate(94,491.3) rotate(-90)">Accuracy</text>
<text x="233" y="457.6" font-size="10.4" text-anchor="start" font-weight="bold" fill="#000" >BMInv</text>
<polyline points="242.7,485.96 259.6,482.18 276.6,484.7 293.6,483.86 310.6,488.06" fill="none" stroke="#7475c0" stroke-width="0.9"/>
<line x1="242.7" y1="482.6" x2="242.7" y2="489.32" stroke="#6ccdf2" stroke-width="0.9" />
<line x1="242.7" y1="483.944" x2="242.7" y2="487.976" stroke="#5a5ab0" stroke-width="0.7" />
<circle cx="242.7" cy="485.96" r="1.7" fill="#12b9f0" />
<line x1="259.6" y1="481.34" x2="259.6" y2="483.02" stroke="#6ccdf2" stroke-width="0.9" />
<line x1="259.6" y1="481.676" x2="259.6" y2="482.684" stroke="#5a5ab0" stroke-width="0.7" />
<circle cx="259.6" cy="482.18" r="1.7" fill="#12b9f0" />
<line x1="276.6" y1="483.44" x2="276.6" y2="485.96" stroke="#6ccdf2" stroke-width="0.9" />
<line x1="276.6" y1="483.944" x2="276.6" y2="485.456" stroke="#5a5ab0" stroke-width="0.7" />
<circle cx="276.6" cy="484.7" r="1.7" fill="#12b9f0" />
<line x1="293.6" y1="482.6" x2="293.6" y2="485.12" stroke="#6ccdf2" stroke-width="0.9" />
<line x1="293.6" y1="483.104" x2="293.6" y2="484.616" stroke="#5a5ab0" stroke-width="0.7" />
<circle cx="293.6" cy="483.86" r="1.7" fill="#12b9f0" />
<line x1="310.6" y1="485.12" x2="310.6" y2="491.0" stroke="#6ccdf2" stroke-width="0.9" />
<line x1="310.6" y1="486.296" x2="310.6" y2="489.824" stroke="#5a5ab0" stroke-width="0.7" />
<circle cx="310.6" cy="488.06" r="1.7" fill="#12b9f0" />
<line x1="226.6" y1="459.5" x2="226.6" y2="522.8" stroke="#231f20" stroke-width="1.2" />
<line x1="226.6" y1="501.5" x2="327.6" y2="501.5" stroke="#231f20" stroke-width="1.2" />
<line x1="226.6" y1="459.5" x2="227.9" y2="459.5" stroke="#231f20" stroke-width="0.9" />
<line x1="226.6" y1="480.5" x2="227.9" y2="480.5" stroke="#231f20" stroke-width="0.9" />
<line x1="226.6" y1="501.5" x2="227.9" y2="501.5" stroke="#231f20" stroke-width="0.9" />
<line x1="226.6" y1="522.5" x2="227.9" y2="522.5" stroke="#231f20" stroke-width="0.9" />
<line x1="242.7" y1="501.5" x2="242.7" y2="499.5" stroke="#231f20" stroke-width="0.9" />
<text x="242.7" y="510.5" font-size="8.3" text-anchor="middle" font-weight="normal" fill="#000" >1</text>
<line x1="259.6" y1="501.5" x2="259.6" y2="499.5" stroke="#231f20" stroke-width="0.9" />
<text x="259.6" y="510.5" font-size="8.3" text-anchor="middle" font-weight="normal" fill="#000" >2</text>
<line x1="276.6" y1="501.5" x2="276.6" y2="499.5" stroke="#231f20" stroke-width="0.9" />
<text x="276.6" y="510.5" font-size="8.3" text-anchor="middle" font-weight="normal" fill="#000" >3</text>
<line x1="293.6" y1="501.5" x2="293.6" y2="499.5" stroke="#231f20" stroke-width="0.9" />
<text x="293.6" y="510.5" font-size="8.3" text-anchor="middle" font-weight="normal" fill="#000" >4</text>
<line x1="310.6" y1="501.5" x2="310.6" y2="499.5" stroke="#231f20" stroke-width="0.9" />
<text x="310.6" y="510.5" font-size="8.3" text-anchor="middle" font-weight="normal" fill="#000" >5</text>
<text x="276.65" y="521.3" font-size="9" text-anchor="middle" font-weight="normal" fill="#333" >Session</text>
<text x="389.6" y="457.6" font-size="10.4" text-anchor="start" font-weight="bold" fill="#000" >BMUpr</text>
<circle cx="401.8" cy="483.86" r="0.75" fill="#55c9f5" />
<circle cx="401.8" cy="481.98615384615385" r="0.75" fill="#55c9f5" />
<circle cx="401.8" cy="476.3646153846154" r="0.75" fill="#55c9f5" />
<circle cx="401.8" cy="474.4907692307692" r="0.75" fill="#55c9f5" />
<circle cx="401.8" cy="472.61692307692306" r="0.75" fill="#55c9f5" />
<circle cx="401.8" cy="470.7430769230769" r="0.75" fill="#55c9f5" />
<circle cx="401.8" cy="468.86923076923074" r="0.75" fill="#55c9f5" />
<circle cx="401.8" cy="466.99538461538464" r="0.75" fill="#55c9f5" />
<circle cx="401.8" cy="465.1215384615385" r="0.75" fill="#55c9f5" />
<circle cx="401.8" cy="463.2476923076923" r="0.75" fill="#55c9f5" />
<circle cx="401.8" cy="461.37384615384616" r="0.75" fill="#55c9f5" />
<circle cx="401.8" cy="459.5" r="0.75" fill="#55c9f5" />
<circle cx="418.7" cy="484.7" r="0.75" fill="#55c9f5" />
<circle cx="418.7" cy="482.9" r="0.75" fill="#55c9f5" />
<circle cx="418.7" cy="479.3" r="0.75" fill="#55c9f5" />
<circle cx="418.7" cy="477.5" r="0.75" fill="#55c9f5" />
<circle cx="418.7" cy="475.7" r="0.75" fill="#55c9f5" />
<circle cx="418.7" cy="473.9" r="0.75" fill="#55c9f5" />
<circle cx="418.7" cy="472.1" r="0.75" fill="#55c9f5" />
<circle cx="418.7" cy="470.3" r="0.75" fill="#55c9f5" />
<circle cx="418.7" cy="468.5" r="0.75" fill="#55c9f5" />
<circle cx="418.7" cy="466.7" r="0.75" fill="#55c9f5" />
<circle cx="418.7" cy="464.9" r="0.75" fill="#55c9f5" />
<circle cx="418.7" cy="463.1" r="0.75" fill="#55c9f5" />
<circle cx="418.7" cy="461.3" r="0.75" fill="#55c9f5" />
<circle cx="418.7" cy="459.5" r="0.75" fill="#55c9f5" />
<circle cx="435.7" cy="481.34" r="0.75" fill="#55c9f5" />
<circle cx="435.7" cy="479.52" r="0.75" fill="#55c9f5" />
<circle cx="435.7" cy="477.7" r="0.75" fill="#55c9f5" />
<circle cx="435.7" cy="475.88" r="0.75" fill="#55c9f5" />
<circle cx="435.7" cy="474.06" r="0.75" fill="#55c9f5" />
<circle cx="435.7" cy="472.24" r="0.75" fill="#55c9f5" />
<circle cx="435.7" cy="470.42" r="0.75" fill="#55c9f5" />
<circle cx="435.7" cy="468.6" r="0.75" fill="#55c9f5" />
<circle cx="435.7" cy="466.78" r="0.75" fill="#55c9f5" />
<circle cx="435.7" cy="464.96000000000004" r="0.75" fill="#55c9f5" />
<circle cx="435.7" cy="463.14" r="0.75" fill="#55c9f5" />
<circle cx="435.7" cy="461.32" r="0.75" fill="#55c9f5" />
<circle cx="435.7" cy="459.5" r="0.75" fill="#55c9f5" />
<circle cx="452.5" cy="486.8" r="0.75" fill="#55c9f5" />
<circle cx="452.5" cy="477.7" r="0.75" fill="#55c9f5" />
<circle cx="452.5" cy="475.88" r="0.75" fill="#55c9f5" />
<circle cx="452.5" cy="474.06" r="0.75" fill="#55c9f5" />
<circle cx="452.5" cy="472.24" r="0.75" fill="#55c9f5" />
<circle cx="452.5" cy="470.42" r="0.75" fill="#55c9f5" />
<circle cx="452.5" cy="468.6" r="0.75" fill="#55c9f5" />
<circle cx="452.5" cy="466.78" r="0.75" fill="#55c9f5" />
<circle cx="452.5" cy="464.96" r="0.75" fill="#55c9f5" />
<circle cx="452.5" cy="463.14" r="0.75" fill="#55c9f5" />
<circle cx="452.5" cy="461.32" r="0.75" fill="#55c9f5" />
<circle cx="452.5" cy="459.5" r="0.75" fill="#55c9f5" />
<circle cx="469.5" cy="480.5" r="0.75" fill="#55c9f5" />
<circle cx="469.5" cy="478.75" r="0.75" fill="#55c9f5" />
<circle cx="469.5" cy="477.0" r="0.75" fill="#55c9f5" />
<circle cx="469.5" cy="475.25" r="0.75" fill="#55c9f5" />
<circle cx="469.5" cy="473.5" r="0.75" fill="#55c9f5" />
<circle cx="469.5" cy="471.75" r="0.75" fill="#55c9f5" />
<circle cx="469.5" cy="470.0" r="0.75" fill="#55c9f5" />
<circle cx="469.5" cy="468.25" r="0.75" fill="#55c9f5" />
<circle cx="469.5" cy="466.5" r="0.75" fill="#55c9f5" />
<circle cx="469.5" cy="464.75" r="0.75" fill="#55c9f5" />
<circle cx="469.5" cy="463.0" r="0.75" fill="#55c9f5" />
<circle cx="469.5" cy="461.25" r="0.75" fill="#55c9f5" />
<circle cx="469.5" cy="459.5" r="0.75" fill="#55c9f5" />
<polyline points="401.8,468.32 418.7,469.58 435.7,468.32 452.5,467.06 469.5,467.48" fill="none" stroke="#7475c0" stroke-width="0.9"/>
<line x1="401.8" y1="466.22" x2="401.8" y2="470.42" stroke="#6ccdf2" stroke-width="0.9" />
<line x1="401.8" y1="467.06" x2="401.8" y2="469.58" stroke="#5a5ab0" stroke-width="0.7" />
<circle cx="401.8" cy="468.32" r="1.7" fill="#12b9f0" />
<line x1="418.7" y1="467.48" x2="418.7" y2="471.68" stroke="#6ccdf2" stroke-width="0.9" />
<line x1="418.7" y1="468.32" x2="418.7" y2="470.84" stroke="#5a5ab0" stroke-width="0.7" />
<circle cx="418.7" cy="469.58" r="1.7" fill="#12b9f0" />
<line x1="435.7" y1="466.64" x2="435.7" y2="470.0" stroke="#6ccdf2" stroke-width="0.9" />
<line x1="435.7" y1="467.312" x2="435.7" y2="469.328" stroke="#5a5ab0" stroke-width="0.7" />
<circle cx="435.7" cy="468.32" r="1.7" fill="#12b9f0" />
<line x1="452.5" y1="465.38" x2="452.5" y2="468.74" stroke="#6ccdf2" stroke-width="0.9" />
<line x1="452.5" y1="466.052" x2="452.5" y2="468.068" stroke="#5a5ab0" stroke-width="0.7" />
<circle cx="452.5" cy="467.06" r="1.7" fill="#12b9f0" />
<line x1="469.5" y1="465.8" x2="469.5" y2="469.15999999999997" stroke="#6ccdf2" stroke-width="0.9" />
<line x1="469.5" y1="466.472" x2="469.5" y2="468.488" stroke="#5a5ab0" stroke-width="0.7" />
<circle cx="469.5" cy="467.48" r="1.7" fill="#12b9f0" />
<line x1="385.8" y1="459.5" x2="385.8" y2="522.8" stroke="#231f20" stroke-width="1.2" />
<line x1="385.8" y1="501.5" x2="486.3" y2="501.5" stroke="#231f20" stroke-width="1.2" />
<line x1="385.8" y1="459.5" x2="387.1" y2="459.5" stroke="#231f20" stroke-width="0.9" />
<text x="382.3" y="462.5" font-size="8.6" text-anchor="end" font-weight="normal" fill="#000" >1</text>
<line x1="385.8" y1="480.5" x2="387.1" y2="480.5" stroke="#231f20" stroke-width="0.9" />
<text x="382.3" y="483.5" font-size="8.6" text-anchor="end" font-weight="normal" fill="#000" >0.5</text>
<line x1="385.8" y1="501.5" x2="387.1" y2="501.5" stroke="#231f20" stroke-width="0.9" />
<text x="382.3" y="504.5" font-size="8.6" text-anchor="end" font-weight="normal" fill="#000" >0</text>
<line x1="385.8" y1="522.5" x2="387.1" y2="522.5" stroke="#231f20" stroke-width="0.9" />
<text x="382.3" y="525.5" font-size="8.6" text-anchor="end" font-weight="normal" fill="#000" >-0.5</text>
<line x1="401.8" y1="501.5" x2="401.8" y2="499.5" stroke="#231f20" stroke-width="0.9" />
<text x="401.8" y="510.5" font-size="8.3" text-anchor="middle" font-weight="normal" fill="#000" >1</text>
<line x1="418.7" y1="501.5" x2="418.7" y2="499.5" stroke="#231f20" stroke-width="0.9" />
<text x="418.7" y="510.5" font-size="8.3" text-anchor="middle" font-weight="normal" fill="#000" >2</text>
<line x1="435.7" y1="501.5" x2="435.7" y2="499.5" stroke="#231f20" stroke-width="0.9" />
<text x="435.7" y="510.5" font-size="8.3" text-anchor="middle" font-weight="normal" fill="#000" >3</text>
<line x1="452.5" y1="501.5" x2="452.5" y2="499.5" stroke="#231f20" stroke-width="0.9" />
<text x="452.5" y="510.5" font-size="8.3" text-anchor="middle" font-weight="normal" fill="#000" >4</text>
<line x1="469.5" y1="501.5" x2="469.5" y2="499.5" stroke="#231f20" stroke-width="0.9" />
<text x="469.5" y="510.5" font-size="8.3" text-anchor="middle" font-weight="normal" fill="#000" >5</text>
<text x="435.65" y="521.3" font-size="9" text-anchor="middle" font-weight="normal" fill="#333" >Session</text>
<text x="0" y="0" font-size="9" text-anchor="middle" font-weight="normal" fill="#000" transform="translate(364.4,491.3) rotate(-90)">Accuracy</text>
<text x="502.3" y="457.6" font-size="10.4" text-anchor="start" font-weight="bold" fill="#000" >BMInv</text>
<circle cx="514" cy="493.1" r="0.75" fill="#55c9f5" />
<circle cx="514" cy="491.0" r="0.75" fill="#55c9f5" />
<circle cx="514" cy="488.9" r="0.75" fill="#55c9f5" />
<circle cx="514" cy="486.8" r="0.75" fill="#55c9f5" />
<circle cx="514" cy="484.7" r="0.75" fill="#55c9f5" />
<circle cx="514" cy="482.6" r="0.75" fill="#55c9f5" />
<circle cx="514" cy="480.5" r="0.75" fill="#55c9f5" />
<circle cx="514" cy="478.4" r="0.75" fill="#55c9f5" />
<circle cx="514" cy="476.3" r="0.75" fill="#55c9f5" />
<circle cx="514" cy="474.2" r="0.75" fill="#55c9f5" />
<circle cx="514" cy="470.0" r="0.75" fill="#55c9f5" />
<circle cx="530.5" cy="501.5" r="0.75" fill="#55c9f5" />
<circle cx="530.5" cy="499.27647058823527" r="0.75" fill="#55c9f5" />
<circle cx="530.5" cy="497.0529411764706" r="0.75" fill="#55c9f5" />
<circle cx="530.5" cy="494.82941176470587" r="0.75" fill="#55c9f5" />
<circle cx="530.5" cy="492.6058823529412" r="0.75" fill="#55c9f5" />
<circle cx="530.5" cy="490.38235294117646" r="0.75" fill="#55c9f5" />
<circle cx="530.5" cy="488.15882352941173" r="0.75" fill="#55c9f5" />
<circle cx="530.5" cy="485.93529411764706" r="0.75" fill="#55c9f5" />
<circle cx="530.5" cy="483.71176470588233" r="0.75" fill="#55c9f5" />
<circle cx="530.5" cy="481.48823529411766" r="0.75" fill="#55c9f5" />
<circle cx="530.5" cy="479.2647058823529" r="0.75" fill="#55c9f5" />
<circle cx="530.5" cy="477.04117647058825" r="0.75" fill="#55c9f5" />
<circle cx="530.5" cy="474.8176470588235" r="0.75" fill="#55c9f5" />
<circle cx="530.5" cy="472.5941176470588" r="0.75" fill="#55c9f5" />
<circle cx="530.5" cy="465.9235294117647" r="0.75" fill="#55c9f5" />
<circle cx="530.5" cy="463.7" r="0.75" fill="#55c9f5" />
<circle cx="547.5" cy="501.5" r="0.75" fill="#55c9f5" />
<circle cx="547.5" cy="499.1666666666667" r="0.75" fill="#55c9f5" />
<circle cx="547.5" cy="496.8333333333333" r="0.75" fill="#55c9f5" />
<circle cx="547.5" cy="492.1666666666667" r="0.75" fill="#55c9f5" />
<circle cx="547.5" cy="489.8333333333333" r="0.75" fill="#55c9f5" />
<circle cx="547.5" cy="487.5" r="0.75" fill="#55c9f5" />
<circle cx="547.5" cy="485.1666666666667" r="0.75" fill="#55c9f5" />
<circle cx="547.5" cy="482.8333333333333" r="0.75" fill="#55c9f5" />
<circle cx="547.5" cy="480.5" r="0.75" fill="#55c9f5" />
<circle cx="547.5" cy="478.1666666666667" r="0.75" fill="#55c9f5" />
<circle cx="547.5" cy="475.8333333333333" r="0.75" fill="#55c9f5" />
<circle cx="547.5" cy="471.1666666666667" r="0.75" fill="#55c9f5" />
<circle cx="547.5" cy="468.8333333333333" r="0.75" fill="#55c9f5" />
<circle cx="547.5" cy="466.5" r="0.75" fill="#55c9f5" />
<circle cx="547.5" cy="464.1666666666667" r="0.75" fill="#55c9f5" />
<circle cx="547.5" cy="461.8333333333333" r="0.75" fill="#55c9f5" />
<circle cx="547.5" cy="459.5" r="0.75" fill="#55c9f5" />
<circle cx="564.5" cy="501.5" r="0.75" fill="#55c9f5" />
<circle cx="564.5" cy="499.15294117647056" r="0.75" fill="#55c9f5" />
<circle cx="564.5" cy="496.8058823529412" r="0.75" fill="#55c9f5" />
<circle cx="564.5" cy="489.7647058823529" r="0.75" fill="#55c9f5" />
<circle cx="564.5" cy="487.41764705882355" r="0.75" fill="#55c9f5" />
<circle cx="564.5" cy="485.0705882352941" r="0.75" fill="#55c9f5" />
<circle cx="564.5" cy="482.72352941176473" r="0.75" fill="#55c9f5" />
<circle cx="564.5" cy="480.3764705882353" r="0.75" fill="#55c9f5" />
<circle cx="564.5" cy="478.02941176470586" r="0.75" fill="#55c9f5" />
<circle cx="564.5" cy="475.6823529411765" r="0.75" fill="#55c9f5" />
<circle cx="564.5" cy="473.33529411764704" r="0.75" fill="#55c9f5" />
<circle cx="564.5" cy="470.98823529411766" r="0.75" fill="#55c9f5" />
<circle cx="564.5" cy="468.6411764705882" r="0.75" fill="#55c9f5" />
<circle cx="564.5" cy="466.29411764705884" r="0.75" fill="#55c9f5" />
<circle cx="564.5" cy="463.9470588235294" r="0.75" fill="#55c9f5" />
<circle cx="564.5" cy="461.6" r="0.75" fill="#55c9f5" />
<circle cx="581.4" cy="500.24" r="0.75" fill="#55c9f5" />
<circle cx="581.4" cy="497.9766666666667" r="0.75" fill="#55c9f5" />
<circle cx="581.4" cy="495.7133333333333" r="0.75" fill="#55c9f5" />
<circle cx="581.4" cy="493.45" r="0.75" fill="#55c9f5" />
<circle cx="581.4" cy="486.66" r="0.75" fill="#55c9f5" />
<circle cx="581.4" cy="484.39666666666665" r="0.75" fill="#55c9f5" />
<circle cx="581.4" cy="482.1333333333333" r="0.75" fill="#55c9f5" />
<circle cx="581.4" cy="479.87" r="0.75" fill="#55c9f5" />
<circle cx="581.4" cy="477.6066666666667" r="0.75" fill="#55c9f5" />
<circle cx="581.4" cy="475.34333333333336" r="0.75" fill="#55c9f5" />
<circle cx="581.4" cy="473.08" r="0.75" fill="#55c9f5" />
<circle cx="581.4" cy="470.81666666666666" r="0.75" fill="#55c9f5" />
<circle cx="581.4" cy="468.55333333333334" r="0.75" fill="#55c9f5" />
<circle cx="581.4" cy="466.29" r="0.75" fill="#55c9f5" />
<circle cx="581.4" cy="464.02666666666664" r="0.75" fill="#55c9f5" />
<circle cx="581.4" cy="461.7633333333333" r="0.75" fill="#55c9f5" />
<circle cx="581.4" cy="459.5" r="0.75" fill="#55c9f5" />
<polyline points="514,482.18 530.5,483.02 547.5,483.02 564.5,483.02 581.4,478.82" fill="none" stroke="#7475c0" stroke-width="0.9"/>
<line x1="514" y1="480.5" x2="514" y2="483.86" stroke="#6ccdf2" stroke-width="0.9" />
<line x1="514" y1="481.172" x2="514" y2="483.188" stroke="#5a5ab0" stroke-width="0.7" />
<circle cx="514" cy="482.18" r="1.7" fill="#12b9f0" />
<line x1="530.5" y1="481.34" x2="530.5" y2="484.7" stroke="#6ccdf2" stroke-width="0.9" />
<line x1="530.5" y1="482.012" x2="530.5" y2="484.028" stroke="#5a5ab0" stroke-width="0.7" />
<circle cx="530.5" cy="483.02" r="1.7" fill="#12b9f0" />
<line x1="547.5" y1="481.34" x2="547.5" y2="484.7" stroke="#6ccdf2" stroke-width="0.9" />
<line x1="547.5" y1="482.012" x2="547.5" y2="484.028" stroke="#5a5ab0" stroke-width="0.7" />
<circle cx="547.5" cy="483.02" r="1.7" fill="#12b9f0" />
<line x1="564.5" y1="481.34" x2="564.5" y2="484.7" stroke="#6ccdf2" stroke-width="0.9" />
<line x1="564.5" y1="482.012" x2="564.5" y2="484.028" stroke="#5a5ab0" stroke-width="0.7" />
<circle cx="564.5" cy="483.02" r="1.7" fill="#12b9f0" />
<line x1="581.4" y1="476.71999999999997" x2="581.4" y2="480.92" stroke="#6ccdf2" stroke-width="0.9" />
<line x1="581.4" y1="477.56" x2="581.4" y2="480.08" stroke="#5a5ab0" stroke-width="0.7" />
<circle cx="581.4" cy="478.82" r="1.7" fill="#12b9f0" />
<line x1="497.1" y1="459.5" x2="497.1" y2="522.8" stroke="#231f20" stroke-width="1.2" />
<line x1="497.1" y1="501.5" x2="598.4" y2="501.5" stroke="#231f20" stroke-width="1.2" />
<line x1="497.1" y1="459.5" x2="498.40000000000003" y2="459.5" stroke="#231f20" stroke-width="0.9" />
<line x1="497.1" y1="480.5" x2="498.40000000000003" y2="480.5" stroke="#231f20" stroke-width="0.9" />
<line x1="497.1" y1="501.5" x2="498.40000000000003" y2="501.5" stroke="#231f20" stroke-width="0.9" />
<line x1="497.1" y1="522.5" x2="498.40000000000003" y2="522.5" stroke="#231f20" stroke-width="0.9" />
<line x1="514" y1="501.5" x2="514" y2="499.5" stroke="#231f20" stroke-width="0.9" />
<text x="514" y="510.5" font-size="8.3" text-anchor="middle" font-weight="normal" fill="#000" >1</text>
<line x1="530.5" y1="501.5" x2="530.5" y2="499.5" stroke="#231f20" stroke-width="0.9" />
<text x="530.5" y="510.5" font-size="8.3" text-anchor="middle" font-weight="normal" fill="#000" >2</text>
<line x1="547.5" y1="501.5" x2="547.5" y2="499.5" stroke="#231f20" stroke-width="0.9" />
<text x="547.5" y="510.5" font-size="8.3" text-anchor="middle" font-weight="normal" fill="#000" >3</text>
<line x1="564.5" y1="501.5" x2="564.5" y2="499.5" stroke="#231f20" stroke-width="0.9" />
<text x="564.5" y="510.5" font-size="8.3" text-anchor="middle" font-weight="normal" fill="#000" >4</text>
<line x1="581.4" y1="501.5" x2="581.4" y2="499.5" stroke="#231f20" stroke-width="0.9" />
<text x="581.4" y="510.5" font-size="8.3" text-anchor="middle" font-weight="normal" fill="#000" >5</text>
<text x="547.7" y="521.3" font-size="9" text-anchor="middle" font-weight="normal" fill="#333" >Session</text>
</svg></body></html>
